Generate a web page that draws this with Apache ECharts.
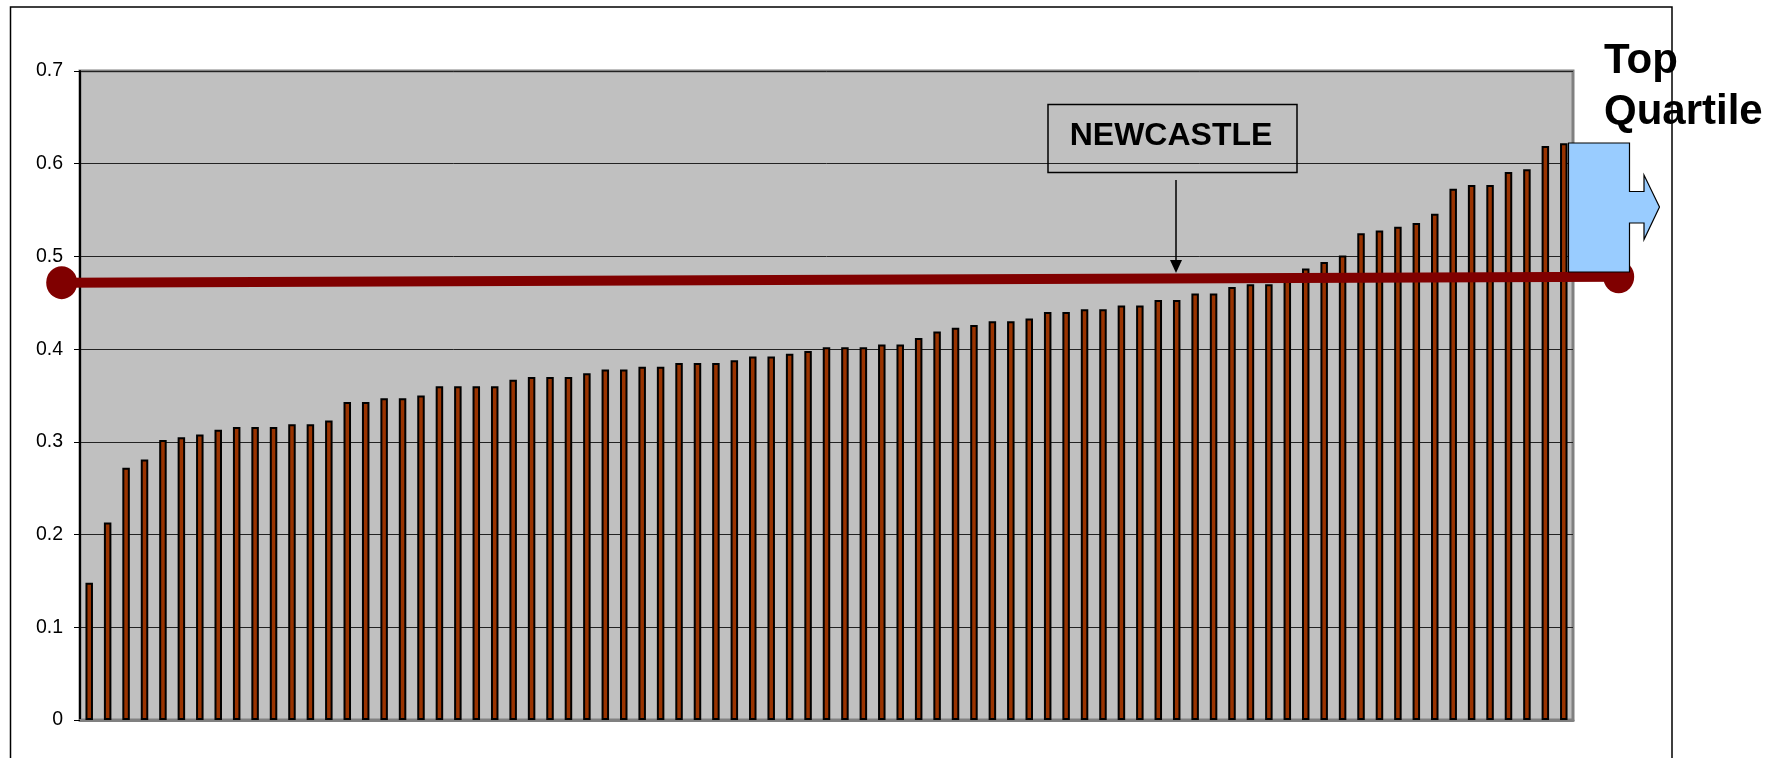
<!DOCTYPE html>
<html>
<head>
<meta charset="utf-8">
<script src="https://cdn.jsdelivr.net/npm/echarts@6/dist/echarts.min.js"></script>
<style>
html,body{margin:0;padding:0;background:#fff;}
#chart{width:1786px;height:758px;}
</style>
</head>
<body>
<div id="chart"></div>
<script>
// Bar values (sorted ascending)
const barValues = [
  0.148, 0.213, 0.272, 0.281, 0.302, 0.305, 0.308, 0.313, 0.316, 0.316,
  0.316, 0.319, 0.319, 0.323, 0.343, 0.343, 0.347, 0.347, 0.350, 0.360,
  0.360, 0.360, 0.360, 0.367, 0.370, 0.370, 0.370, 0.374, 0.378, 0.378,
  0.381, 0.381, 0.385, 0.385, 0.385, 0.388, 0.392, 0.392, 0.395, 0.398,
  0.402, 0.402, 0.402, 0.405, 0.405, 0.412, 0.419, 0.423, 0.426, 0.430,
  0.430, 0.433, 0.440, 0.440, 0.443, 0.443, 0.447, 0.447, 0.453, 0.453,
  0.460, 0.460, 0.467, 0.470, 0.470, 0.479, 0.487, 0.494, 0.501, 0.525,
  0.528, 0.532, 0.536, 0.546, 0.573, 0.577, 0.577, 0.591, 0.594, 0.619,
  0.622
];
const categories = barValues.map((v, i) => String(i + 1));
// Newcastle reference line: start / end positions and values
const linePositions = [0, 1];
const lineValues = [0.4717, 0.478];
// Y-axis ticks
const yMin = 0, yMax = 0.7, yInterval = 0.1;
// Annotation texts
const calloutText = 'NEWCASTLE';
const quartileText = ['Top', 'Quartile'];

const FONT = '"Liberation Sans", Arial, sans-serif';
const chart = echarts.init(document.getElementById('chart'), null, {renderer: 'canvas'});

const option = {
  animation: false,
  backgroundColor: '#ffffff',
  grid: [
    {left: 80, right: 213, top: 71, bottom: 38, show: true,
     backgroundColor: '#C0C0C0', borderColor: '#808080', borderWidth: 3},
    {left: 61.7, right: 167.3, top: 71, bottom: 38, show: false}
  ],
  xAxis: [
    {type: 'category', data: categories, gridIndex: 0,
     axisLine: {show: true, lineStyle: {color: '#808080', width: 3}},
     axisTick: {show: false}, axisLabel: {show: false}, splitLine: {show: false}},
    {type: 'value', gridIndex: 1, min: 0, max: 1, show: false}
  ],
  yAxis: [
    {type: 'value', gridIndex: 0, min: yMin, max: yMax, interval: yInterval,
     axisLine: {show: true, lineStyle: {color: '#000', width: 2}},
     axisTick: {show: true, length: 6, lineStyle: {color: '#000', width: 1}},
     axisLabel: {color: '#000', fontSize: 19.5, fontFamily: FONT, margin: 17},
     splitLine: {show: true, lineStyle: {color: '#222', width: 1}}},
    {type: 'value', gridIndex: 1, min: yMin, max: yMax, show: false}
  ],
  series: [
    {type: 'bar', xAxisIndex: 0, yAxisIndex: 0, data: barValues, barWidth: 7.5,
     itemStyle: {color: '#993300', borderColor: '#000', borderWidth: 2}, z: 2},
    {type: 'line', xAxisIndex: 1, yAxisIndex: 1,
     data: linePositions.map((p, i) => [p, lineValues[i]]),
     lineStyle: {color: '#800000', width: 10},
     symbol: 'circle', symbolSize: [31, 33], showSymbol: true,
     itemStyle: {color: '#800000'}, z: 3}
  ],
  graphic: [
    // outer frame
    {type: 'rect', shape: {x: 10.5, y: 7, width: 1661.5, height: 800},
     style: {fill: 'none', stroke: '#000', lineWidth: 1.5}, z: 1},
    // NEWCASTLE callout box
    {type: 'rect', shape: {x: 1048, y: 104.5, width: 249, height: 68},
     style: {fill: 'none', stroke: '#000', lineWidth: 1.5}, z: 10},
    {type: 'text', x: 1171, y: 136,
     style: {text: calloutText, font: 'bold 32px ' + FONT, fill: '#000',
             align: 'center', verticalAlign: 'middle'}, z: 10},
    {type: 'line', shape: {x1: 1176, y1: 180, x2: 1176, y2: 262},
     style: {stroke: '#000', lineWidth: 1.5}, z: 10},
    {type: 'polygon', shape: {points: [[1170, 260], [1182, 260], [1176, 273]]},
     style: {fill: '#000'}, z: 10},
    // Top quartile block arrow
    {type: 'polygon', shape: {points: [
       [1568.5, 143], [1629.5, 143], [1629.5, 191.5], [1644, 191.5], [1644, 175],
       [1659.5, 207], [1644, 239.5], [1644, 223], [1629.5, 223], [1629.5, 272],
       [1568.5, 272]]},
     style: {fill: '#99CCFF', stroke: '#000', lineWidth: 1.2}, z: 10},
    {type: 'text', x: 1604, y: 61,
     style: {text: quartileText[0], font: 'bold 42px ' + FONT, fill: '#000',
             align: 'left', verticalAlign: 'middle'}, z: 11},
    {type: 'text', x: 1604, y: 112,
     style: {text: quartileText[1], font: 'bold 42px ' + FONT, fill: '#000',
             align: 'left', verticalAlign: 'middle'}, z: 11}
  ]
};
chart.setOption(option);
</script>
</body>
</html>
